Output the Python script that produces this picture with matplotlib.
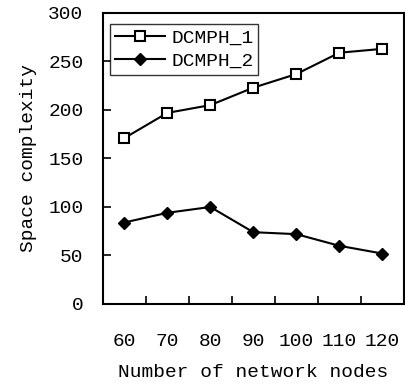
import matplotlib
matplotlib.use('Agg')
import matplotlib.pyplot as plt
import numpy as np

# data
nodes = ['60', '70', '80', '90', '100', '110', '120']
dcmph_1 = [171, 197, 205, 223, 237, 259, 263]
dcmph_2 = [84, 94, 100, 74, 72, 60, 52]

plt.rcParams['font.family'] = ['Liberation Mono', 'DejaVu Sans Mono']
fs = 14

fig = plt.figure(figsize=(4.05, 3.87), dpi=100)
ax = fig.add_axes([0.254, 0.2145, 0.743, 0.752])

x = np.arange(1, len(nodes) + 1)
ax.plot(x, dcmph_1, color='black', lw=1.5, marker='s', markersize=7.5,
        markerfacecolor='white', markeredgecolor='black', markeredgewidth=1.5,
        label='DCMPH_1')
ax.plot(x, dcmph_2, color='black', lw=1.5, marker='D', markersize=6.5,
        markerfacecolor='black', markeredgecolor='black', label='DCMPH_2')

ax.set_xlim(0.5, len(nodes) + 0.5)
ax.set_ylim(0, 300)
ax.set_yticks(np.arange(0, 301, 50))

# category axis: labels centred, ticks between categories
ax.set_xticks(x)
ax.set_xticklabels(nodes)
ax.set_xticks(x[:-1] + 0.5, minor=True)
ax.tick_params(axis='x', which='major', length=0, pad=21, labelsize=fs)
ax.tick_params(axis='x', which='minor', direction='in', length=6, width=1.2)
ax.tick_params(axis='y', direction='in', length=6, width=1.2, pad=14, labelsize=fs)

for sp in ax.spines.values():
    sp.set_linewidth(1.5)

ax.set_xlabel('Number of network nodes', fontsize=fs, labelpad=10)
ax.set_ylabel('Space complexity', fontsize=fs, labelpad=8)

leg = ax.legend(loc='upper left', bbox_to_anchor=(0.023, 0.962), borderaxespad=0,
                fontsize=fs, frameon=True, fancybox=False, edgecolor='black',
                handlelength=2.6, handletextpad=0.3, borderpad=0.25,
                labelspacing=0.3)
leg.get_frame().set_linewidth(1.0)

fig.savefig('out.png', dpi=100)
